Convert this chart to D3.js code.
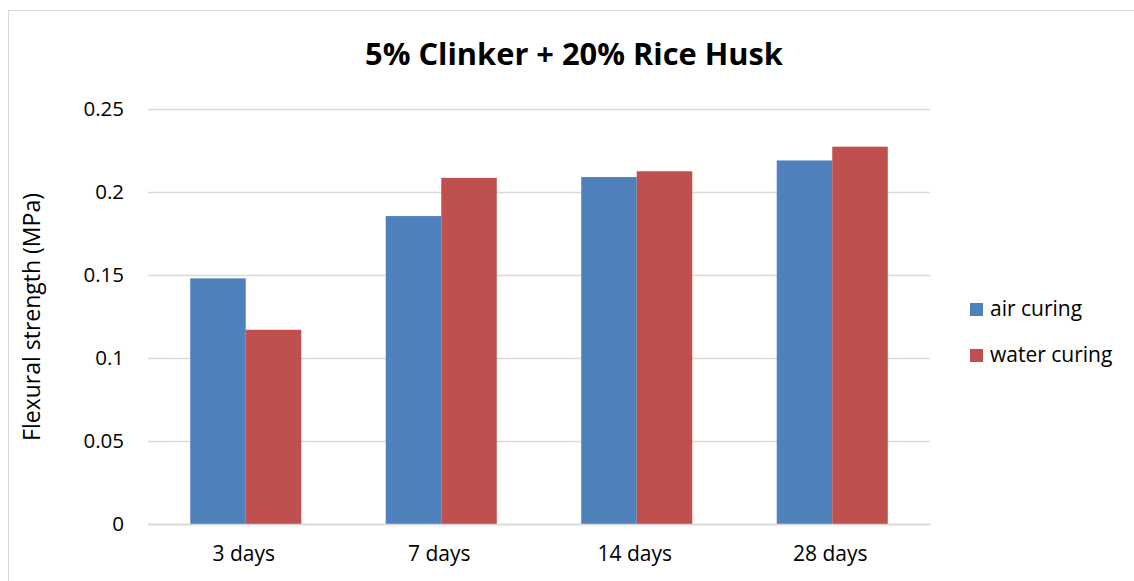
<!DOCTYPE html>
<html>
<head>
<meta charset="utf-8">
<script src="https://cdn.jsdelivr.net/npm/d3@7"></script>
<style>
  html, body { margin: 0; padding: 0; background: #fff; }
  svg { display: block; font-family: "Open Sans", sans-serif; }
</style>
</head>
<body>
<svg id="chart" width="1134" height="581"></svg>
<script>
// Flexural strength at each curing age, two curing regimes
const categories = ["3 days", "7 days", "14 days", "28 days"];
const seriesNames = ["air curing", "water curing"];
const airCuring = [0.148, 0.1855, 0.209, 0.219];
const waterCuring = [0.117, 0.2085, 0.2125, 0.2273];
const yTicks = [0, 0.05, 0.1, 0.15, 0.2, 0.25];
const colors = ["#4F81BD", "#C0504D"];

const seriesValues = [airCuring, waterCuring];

const svg = d3.select("#chart");

// outer chart frame
svg.append("rect")
  .attr("x", 8.5).attr("y", 10.5)
  .attr("width", 1200).attr("height", 700)
  .attr("fill", "#fff")
  .attr("stroke", "#D9D9D9").attr("stroke-width", 1);

const plot = { left: 148, right: 930, top: 109, bottom: 524 };

const y = d3.scaleLinear().domain([0, 0.25]).range([plot.bottom, plot.top]);

const x0 = d3.scaleBand()
  .domain(categories)
  .range([plot.left, plot.right])
  .paddingInner(0.432)
  .paddingOuter(0.216);

const x1 = d3.scaleBand()
  .domain(seriesNames)
  .range([0, x0.bandwidth()]);

// horizontal gridlines
svg.append("g")
  .selectAll("line")
  .data(yTicks)
  .join("line")
  .attr("x1", plot.left).attr("x2", plot.right)
  .attr("y1", d => Math.round(y(d)) + 0.5)
  .attr("y2", d => Math.round(y(d)) + 0.5)
  .attr("stroke", "#D9D9D9").attr("stroke-width", 1.4);

// y-axis tick labels
const yAxis = d3.axisLeft(y)
  .tickValues(yTicks)
  .tickSize(0)
  .tickPadding(0)
  .tickFormat(d => d3.format("~g")(d));

svg.append("g")
  .attr("transform", `translate(${plot.left - 24},0)`)
  .call(yAxis)
  .call(g => g.select(".domain").remove())
  .call(g => g.selectAll("text")
    .attr("font-family", "Open Sans")
    .attr("font-size", 20.5)
    .attr("fill", "#000"));

// bars
const groups = svg.append("g")
  .selectAll("g")
  .data(categories)
  .join("g")
  .attr("transform", d => `translate(${x0(d)},0)`);

groups.selectAll("rect")
  .data((c, i) => seriesNames.map((s, k) => ({ s, k, v: seriesValues[k][i] })))
  .join("rect")
  .attr("x", d => x1(d.s))
  .attr("width", x1.bandwidth())
  .attr("y", d => y(d.v))
  .attr("height", d => y(0) - y(d.v))
  .attr("fill", d => colors[d.k]);

// x-axis baseline and category labels
const xAxis = d3.axisBottom(x0).tickSize(0).tickPadding(0);
svg.append("g")
  .attr("transform", `translate(0,${plot.bottom})`)
  .call(xAxis)
  .call(g => g.select(".domain")
    .attr("stroke", "#D9D9D9").attr("stroke-width", 1.4))
  .call(g => g.selectAll("text")
    .attr("dy", null)
    .attr("x", -2)
    .attr("y", 37)
    .attr("font-family", "Open Sans")
    .attr("font-size", 21)
    .attr("fill", "#000"));

// title
svg.append("text")
  .attr("x", 574).attr("y", 65)
  .attr("text-anchor", "middle")
  .attr("font-family", "Open Sans")
  .attr("font-weight", "bold")
  .attr("font-size", 30.8)
  .attr("fill", "#000")
  .text("5% Clinker + 20% Rice Husk");

// y-axis title
svg.append("text")
  .attr("transform", "translate(40,317) rotate(-90)")
  .attr("text-anchor", "middle")
  .attr("font-family", "Open Sans")
  .attr("font-size", 23)
  .attr("fill", "#000")
  .text("Flexural strength (MPa)");

// legend
const legend = svg.append("g")
  .selectAll("g")
  .data(seriesNames)
  .join("g")
  .attr("transform", (d, i) => `translate(970,${303 + i * 46})`);

legend.append("rect")
  .attr("width", 13).attr("height", 13)
  .attr("fill", (d, i) => colors[i]);

legend.append("text")
  .attr("x", 20).attr("y", 13)
  .attr("font-family", "Open Sans")
  .attr("font-size", 21)
  .attr("fill", "#000")
  .text(d => d);
</script>
</body>
</html>
